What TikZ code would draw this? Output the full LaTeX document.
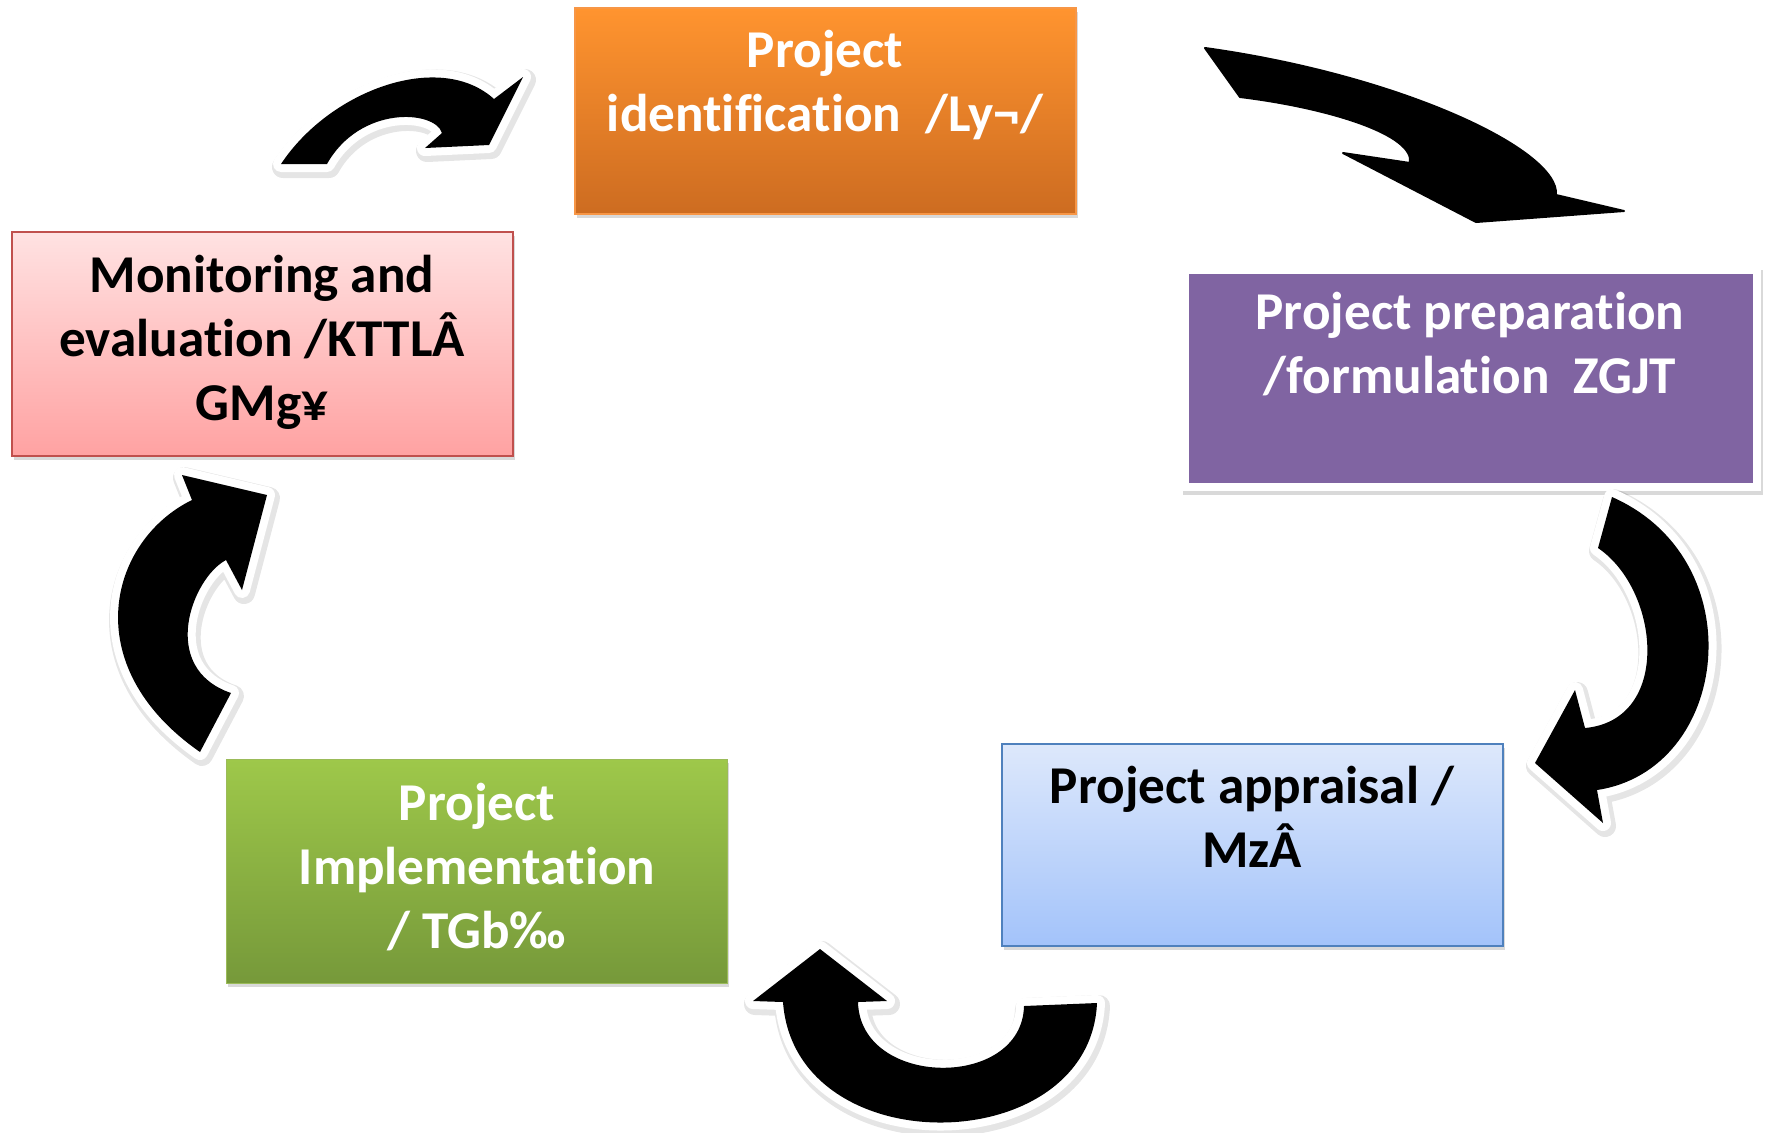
\documentclass[tikz,border=0pt]{standalone}
\usepackage{fontspec}
\setmainfont{Carlito}[Ligatures=NoCommon]
\usetikzlibrary{shadows}
\definecolor{orTop}{RGB}{255,148,47}
\definecolor{orBot}{RGB}{205,108,33}
\definecolor{orLine}{RGB}{247,150,70}
\definecolor{purpleFill}{RGB}{128,100,162}
\definecolor{redTop}{RGB}{255,226,226}
\definecolor{redBot}{RGB}{255,162,162}
\definecolor{redLine}{RGB}{192,80,77}
\definecolor{grTop}{RGB}{158,200,74}
\definecolor{grBot}{RGB}{118,153,58}
\definecolor{grLine}{RGB}{155,187,89}
\definecolor{blTop}{RGB}{221,232,251}
\definecolor{blBot}{RGB}{163,195,250}
\definecolor{blLine}{RGB}{79,129,189}
\tikzset{
  boxshape/.style={rectangle, inner sep=0pt, minimum width=250.5pt,
    drop shadow={shadow xshift=0.8pt, shadow yshift=-2pt, opacity=0.3}},
  boxtext/.style={font=\bfseries\fontsize{26.6}{32}\selectfont, align=center,
    anchor=north, inner sep=0pt},
  bigarrow/.style={fill=black, line join=round,
    preaction={draw=black, opacity=0.1, line width=11pt, line join=round,
      transform canvas={shift={(1pt,-1.5pt)}}},
    preaction={draw=white, line width=8pt, line join=round}},
  plainarrow/.style={fill=black, draw=black, line width=1pt, line join=round}
}
\begin{document}
\begin{tikzpicture}[x=0.5pt, y=-0.5pt]
\useasboundingbox (0,0) rectangle (1767,1132);

% ---------- boxes ----------
\node[boxshape, minimum height=103pt, top color=orTop, bottom color=orBot,
      draw=orLine, line width=0.8pt] (idbox) at (825.5,111) {};
\node[boxtext, text=white] (idtext) at (825,27)
  {\rule{0pt}{20pt}Project\\identification\ \ /Ly¬/};

\node[boxshape, minimum width=290pt, minimum height=112.5pt, fill=white]
  (prepframe) at (1471,378.5) {};
\node[rectangle, inner sep=0pt, minimum width=282pt, minimum height=104.5pt,
      fill=purpleFill] (prepbox) at (1471,378.5) {};
\node[boxtext, text=white] (preptext) at (1470,289)
  {\rule{0pt}{20pt}Project preparation\\/formulation\ \ ZGJT};

\node[boxshape, minimum height=112pt, top color=redTop, bottom color=redBot,
      draw=redLine, line width=1pt] (monbox) at (262.5,344) {};
\node[boxtext, text=black] (montext) at (262,252)
  {\rule{0pt}{20pt}Monitoring and\\evaluation /KTTLÂ\\GMg¥};

\node[boxshape, minimum height=112pt, top color=grTop, bottom color=grBot,
      draw=grLine, line width=0.5pt] (impbox) at (476.5,871) {};
\node[boxtext, text=white] (imptext) at (477,780)
  {\rule{0pt}{20pt}Project\\Implementation\\/ TGb‰};

\node[boxshape, minimum height=101pt, top color=blTop, bottom color=blBot,
      draw=blLine, line width=1pt] (appbox) at (1252.5,845) {};
\node[boxtext, text=black] (apptext) at (1252,763)
  {\rule{0pt}{20pt}Project appraisal /\\MzÂ};

% ---------- arrows ----------
% monitoring -> identification
\path[bigarrow] (281,164)
  .. controls (330,90) and (440,50) .. (494,99)
  -- (523,77) -- (489,145) -- (425,148) -- (442,133)
  .. controls (435,110) and (360,105) .. (327,164)
  -- cycle;

% identification -> preparation
\path[plainarrow] (1205,48) -- (1240,97)
  .. controls (1330,108) and (1415,135) .. (1410,163)
  -- (1343,153) -- (1476,222) -- (1624,211) -- (1556,195)
  .. controls (1560,150) and (1400,75) .. (1205,48)
  -- cycle;

% preparation -> appraisal
\path[bigarrow] (1612,497) -- (1598,548)
  .. controls (1660,590) and (1672,720) .. (1585,728)
  -- (1575,690) -- (1535,763) -- (1603,823) -- (1597,790)
  .. controls (1730,770) and (1755,560) .. (1612,497)
  -- cycle;

% appraisal -> implementation
\path[bigarrow] (1097,1003) -- (1024,1006)
  .. controls (1022,1090) and (860,1088) .. (858,1002)
  -- (887,1001) -- (820,949) -- (753,1001) -- (783,1002)
  .. controls (795,1165) and (1090,1160) .. (1097,1003)
  -- cycle;

% implementation -> monitoring
\path[bigarrow] (200,752) -- (231,693)
  .. controls (158,668) and (192,578) .. (226,560)
  -- (242,590) -- (267,495) -- (182,475) -- (192,500)
  .. controls (110,540) and (75,665) .. (200,752)
  -- cycle;
\end{tikzpicture}
\end{document}
